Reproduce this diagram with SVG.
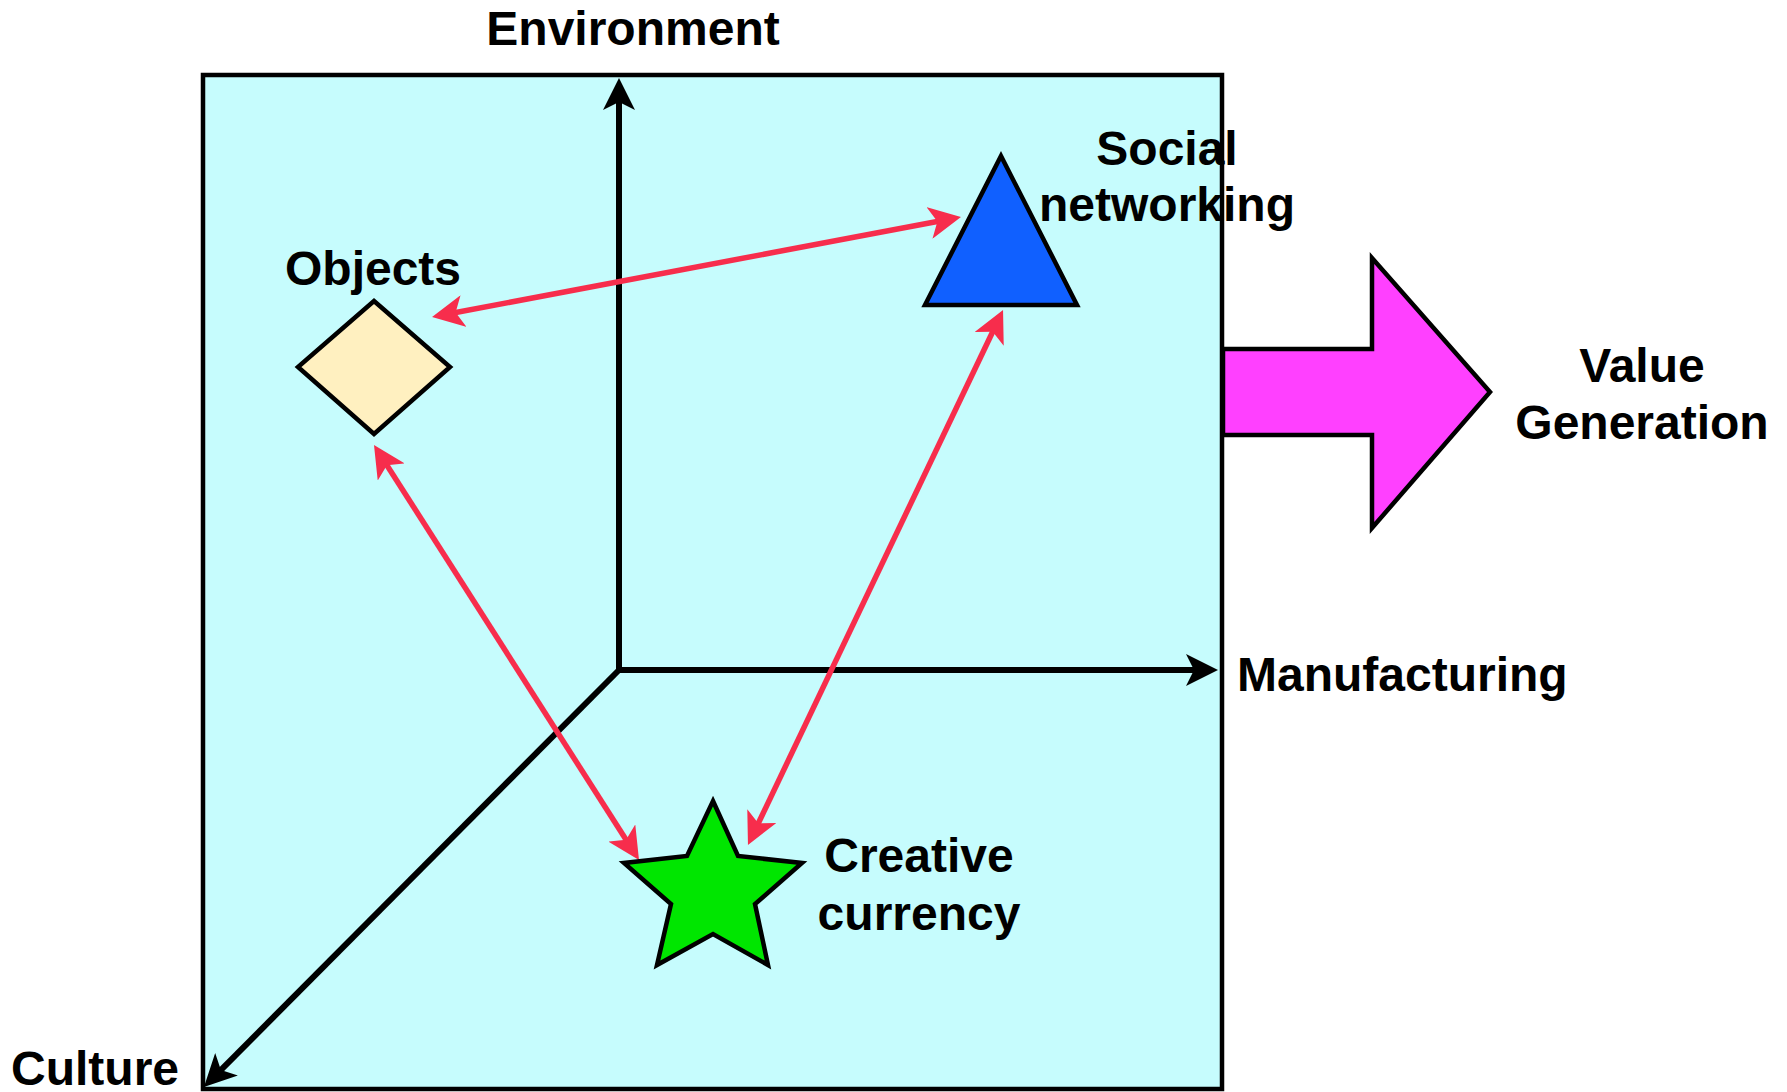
<svg xmlns="http://www.w3.org/2000/svg" width="1787" height="1092" viewBox="0 0 1787 1092">
<style>
  .lbl { font-family: "Liberation Sans", Arial, Helvetica, sans-serif; font-weight: bold; font-size: 48px; fill: #000; }
  .shape { stroke: #000; stroke-width: 4.5; stroke-linejoin: miter; }
  .axis { stroke: #000; stroke-width: 6; fill: none; }
  .rel { stroke: #f72d4c; stroke-width: 5.5; fill: none; }
</style>
<defs>
  <marker id="blackHead" viewBox="0 0 32 32" refX="24" refY="16" markerWidth="32" markerHeight="32" markerUnits="userSpaceOnUse" orient="auto-start-reverse">
    <path d="M32,16 L0,0 L8,16 L0,32 Z" fill="#000"/>
  </marker>
  <marker id="redHead" viewBox="0 0 32 32" refX="24" refY="16" markerWidth="32" markerHeight="32" markerUnits="userSpaceOnUse" orient="auto-start-reverse">
    <path d="M32,16 L0,0 L8,16 L0,32 Z" fill="#f72d4c"/>
  </marker>
</defs>
<rect width="1787" height="1092" fill="#fff"/>

<g id="frame">
  <rect x="203" y="75" width="1019" height="1014" fill="#c6fcfd" stroke="#000" stroke-width="4.5"/>
</g>

<g id="value-generation">
  <path class="shape" d="M1223,349 L1372,349 L1372,258 L1490,392 L1372,528 L1372,435 L1223,435 Z" fill="#ff40ff"/>
  <text class="lbl" x="1642" y="382" text-anchor="middle">Value</text>
  <text class="lbl" x="1642" y="439" text-anchor="middle">Generation</text>
</g>

<g id="connectors">
  <line class="axis" x1="619" y1="673" x2="619" y2="86" marker-end="url(#blackHead)"/>
  <line class="axis" x1="616" y1="670" x2="1210" y2="670" marker-end="url(#blackHead)"/>
  <line class="axis" x1="619" y1="670" x2="209.6" y2="1081.3" marker-end="url(#blackHead)"/>
  <line class="rel" x1="439.9" y1="315.5" x2="953.1" y2="218.5" marker-start="url(#redHead)" marker-end="url(#redHead)"/>
  <line class="rel" x1="378.3" y1="451.7" x2="634.7" y2="853.3" marker-start="url(#redHead)" marker-end="url(#redHead)"/>
  <line class="rel" x1="999.6" y1="317.2" x2="751.4" y2="837.8" marker-start="url(#redHead)" marker-end="url(#redHead)"/>
</g>

<g id="environment">
  <text class="lbl" x="633" y="45" text-anchor="middle">Environment</text>
</g>
<g id="manufacturing">
  <text class="lbl" x="1237" y="691">Manufacturing</text>
</g>
<g id="culture">
  <text class="lbl" x="11" y="1085">Culture</text>
</g>

<g id="objects">
  <polygon class="shape" points="374,301 450,367 374,434 298,367" fill="#fff0c0"/>
  <text class="lbl" x="373" y="285" text-anchor="middle">Objects</text>
</g>

<g id="social-networking">
  <polygon class="shape" points="1001,156 1077,305 925,305" fill="#1060ff"/>
  <text class="lbl" x="1167" y="165" text-anchor="middle">Social</text>
  <text class="lbl" x="1167" y="221" text-anchor="middle">networking</text>
</g>

<g id="creative-currency">
  <polygon class="shape" points="713,801 738,856 802,863 755,904 768,965 713,934 657,965 671,904 624,863 687,856" fill="#00e600"/>
  <text class="lbl" x="919" y="872" text-anchor="middle">Creative</text>
  <text class="lbl" x="919" y="930" text-anchor="middle">currency</text>
</g>
</svg>
